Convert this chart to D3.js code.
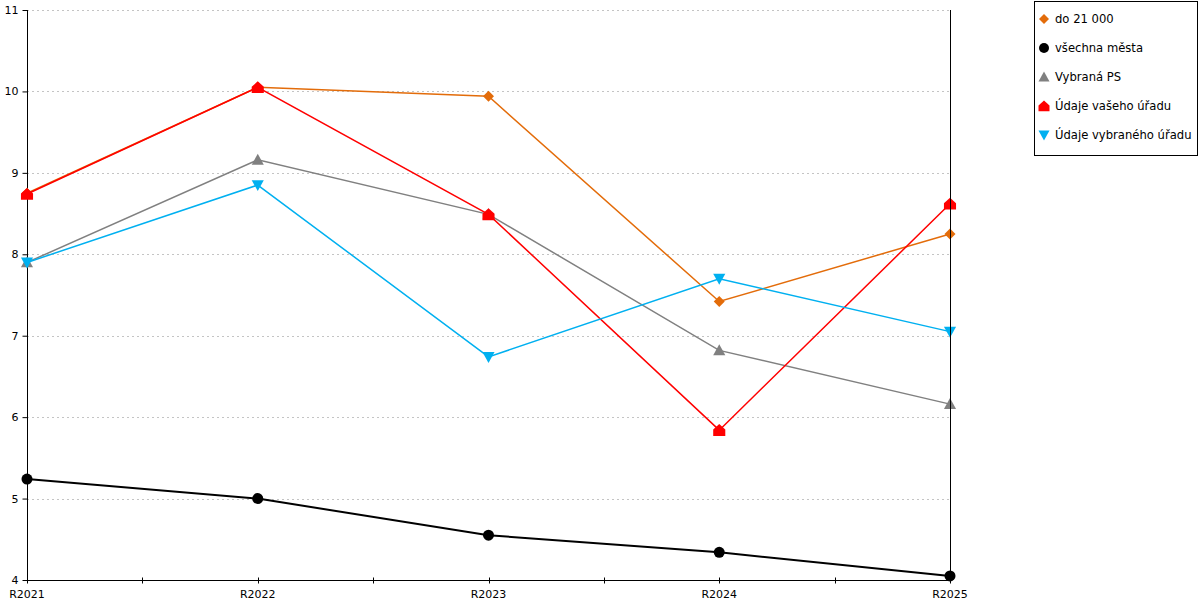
<!DOCTYPE html>
<html><head><meta charset="utf-8">
<script src="https://cdn.jsdelivr.net/npm/d3@7"></script>
<style>body{margin:0;background:#fff}svg{display:block;font-family:"DejaVu Sans",sans-serif}</style>
</head><body>
<svg id="c" width="1200" height="600"></svg>
<script>
const categories = ["R2021","R2022","R2023","R2024","R2025"];
const seriesNames = ["do 21 000","všechna města","Vybraná PS","Údaje vašeho úřadu","Údaje vybraného úřadu"];
const do21000 = [8.75, 10.05, 9.94, 7.42, 8.25];
const vsechnaMesta = [5.24, 5.00, 4.55, 4.34, 4.05];
const vybranaPS = [7.90, 9.16, 8.49, 6.82, 6.16];
const vasUrad = [8.74, 10.05, 8.49, 5.84, 8.62];
const vybranyUrad = [7.90, 8.85, 6.74, 7.70, 7.05];
const yTicks = [4,5,6,7,8,9,10,11];

const colors = ["#E36C0A","#000000","#808080","#FF0000","#00B0F0"];
const widths = [1.5,2,1.5,1.5,1.5];
const shapes = ["diamond","circle","triangle","house","tridown"];
const allSeries = [do21000, vsechnaMesta, vybranaPS, vasUrad, vybranyUrad];

const svg = d3.select("#c");
const x = d3.scalePoint().domain(categories).range([27,950]);
const y = d3.scaleLinear().domain([4,11]).range([580,10]);

// grid
svg.append("g").selectAll("line").data(yTicks.filter(t=>t>4)).join("line")
  .attr("x1",27).attr("x2",950).attr("y1",d=>Math.round(y(d))+0.5).attr("y2",d=>Math.round(y(d))+0.5)
  .attr("stroke","#c4c4c4").attr("stroke-dasharray","2,3").attr("stroke-width",1);

// y axis
const ya = svg.append("g").attr("transform","translate(27.5,0)")
  .call(d3.axisLeft(y).tickValues(yTicks).tickSize(5).tickPadding(4).tickFormat(d3.format("d")));
ya.select(".domain").attr("d","M0,10V580");
ya.selectAll("text").style("font-size","11px").style("font-family","DejaVu Sans").attr("fill","#000");

// x axis
const xa = svg.append("g").attr("transform","translate(0,580.5)");
xa.append("line").attr("x1",27).attr("x2",950).attr("stroke","#000");
const half = [];
for(let i=0;i<categories.length-1;i++) half.push((x(categories[i])+x(categories[i+1]))/2);
xa.selectAll("line.maj").data(categories).join("line").attr("class","maj")
  .attr("x1",d=>Math.round(x(d))+0.5).attr("x2",d=>Math.round(x(d))+0.5).attr("y1",-3).attr("y2",3).attr("stroke","#000");
xa.selectAll("line.min").data(half).join("line").attr("class","min")
  .attr("x1",d=>Math.round(d)+0.5).attr("x2",d=>Math.round(d)+0.5).attr("y1",-3).attr("y2",3).attr("stroke","#000");
xa.selectAll("text").data(categories).join("text")
  .attr("x",d=>x(d)).attr("y",17).attr("text-anchor","middle")
  .style("font-size","11px").text(d=>d);

function marker(g, shape, color, cx, cy, s){
  if(shape==="circle"){
    g.append("circle").attr("cx",cx).attr("cy",cy).attr("r",s*0.5).attr("fill",color);
  } else if(shape==="diamond"){
    const r=s*0.5;
    g.append("path").attr("d",`M${cx},${cy-r}L${cx+r},${cy}L${cx},${cy+r}L${cx-r},${cy}Z`).attr("fill",color);
  } else if(shape==="triangle"){
    const r=s*0.55;
    g.append("path").attr("d",`M${cx},${cy-r}L${cx+r},${cy+r*0.8}L${cx-r},${cy+r*0.8}Z`).attr("fill",color);
  } else if(shape==="tridown"){
    const r=s*0.55;
    g.append("path").attr("d",`M${cx-r},${cy-r*0.8}L${cx+r},${cy-r*0.8}L${cx},${cy+r}Z`).attr("fill",color);
  } else if(shape==="house"){
    const r=s*0.55;
    g.append("path").attr("d",`M${cx},${cy-r}L${cx+r},${cy-r*0.1}L${cx+r},${cy+r*0.95}L${cx-r},${cy+r*0.95}L${cx-r},${cy-r*0.1}Z`).attr("fill",color);
  }
}

const line = d3.line().x((d,i)=>x(categories[i])).y(d=>y(d));
allSeries.forEach((vals,si)=>{
  const g = svg.append("g");
  g.append("path").datum(vals).attr("d",line).attr("fill","none")
    .attr("stroke",colors[si]).attr("stroke-width",widths[si]);
  vals.forEach((v,i)=>marker(g, shapes[si], colors[si], x(categories[i]), y(v), 11));
});

// right vertical line
svg.append("line").attr("x1",950.5).attr("x2",950.5).attr("y1",10).attr("y2",580).attr("stroke","#000");

// legend
const lg = svg.append("g");
lg.append("rect").attr("x",1034.5).attr("y",1.5).attr("width",163).attr("height",154)
  .attr("fill","#fff").attr("stroke","#000");
seriesNames.forEach((n,i)=>{
  const cy = 19 + i*29;
  marker(lg, shapes[i], colors[i], 1044, cy, 10);
  lg.append("text").attr("x",1055).attr("y",cy+4).style("font-size","11.6px").text(n);
});
</script>
</body></html>
